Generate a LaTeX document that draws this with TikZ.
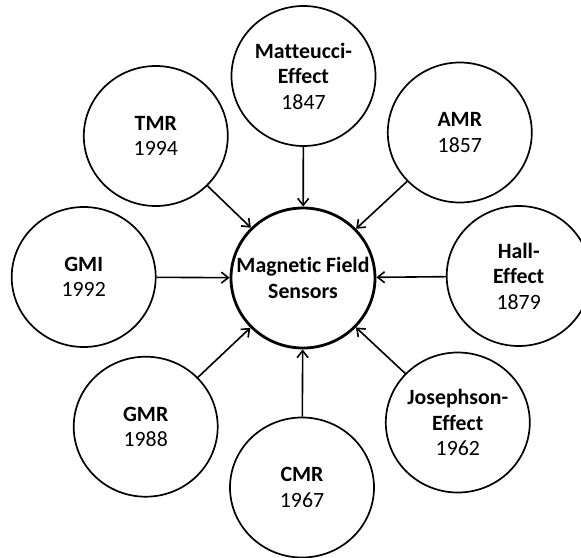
\documentclass[tikz,border=0pt]{standalone}
\usepackage{fontspec}
\setmainfont[Ligatures={NoCommon}]{Carlito}
\usetikzlibrary{arrows.meta,shapes.geometric}
\tikzset{
  txt/.style={align=center, inner sep=0pt, font=\fontsize{21.8}{25.5}\selectfont},
  outer/.style={ellipse, draw, line width=1.7pt, minimum width=144pt, minimum height=140pt, inner sep=0pt},
  hub/.style={outer, line width=2.8pt},
  conn/.style={line width=1.6pt, -{Straight Barb[length=7pt,width=11pt,line width=1.6pt]}}
}
\begin{document}
\begin{tikzpicture}[x=1pt,y=-1pt]
\useasboundingbox[fill=white] (0,0) rectangle (581,557);
\node[hub, label={[txt]center:\textbf{Magnetic Field}\\\textbf{Sensors}}] (c) at (303,278) {};
\node[outer, label={[txt]center:\textbf{Matteucci-}\\\textbf{Effect}\\1847}] (mat) at (303.5,76) {};
\node[outer, label={[txt]center:\textbf{AMR}\\1857}] (amr) at (459.8,132.5) {};
\node[outer, label={[txt]center:\textbf{Hall-}\\\textbf{Effect}\\1879}] (hall) at (518.7,276) {};
\node[outer, label={[txt]center:\textbf{Josephson-}\\\textbf{Effect}\\1962}] (jos) at (457.8,422.5) {};
\node[outer, label={[txt]center:\textbf{CMR}\\1967}] (cmr) at (302,487.5) {};
\node[outer, label={[txt]center:\textbf{GMR}\\1988}] (gmr) at (145.7,426.7) {};
\node[outer, label={[txt]center:\textbf{GMI}\\1992}] (gmi) at (83.7,277) {};
\node[outer, label={[txt]center:\textbf{TMR}\\1994}] (tmr) at (155.8,136) {};
\foreach \n in {mat,amr,hall,jos,cmr,gmr,gmi,tmr}
  \draw[conn] (\n) -- (c);
\end{tikzpicture}
\end{document}
